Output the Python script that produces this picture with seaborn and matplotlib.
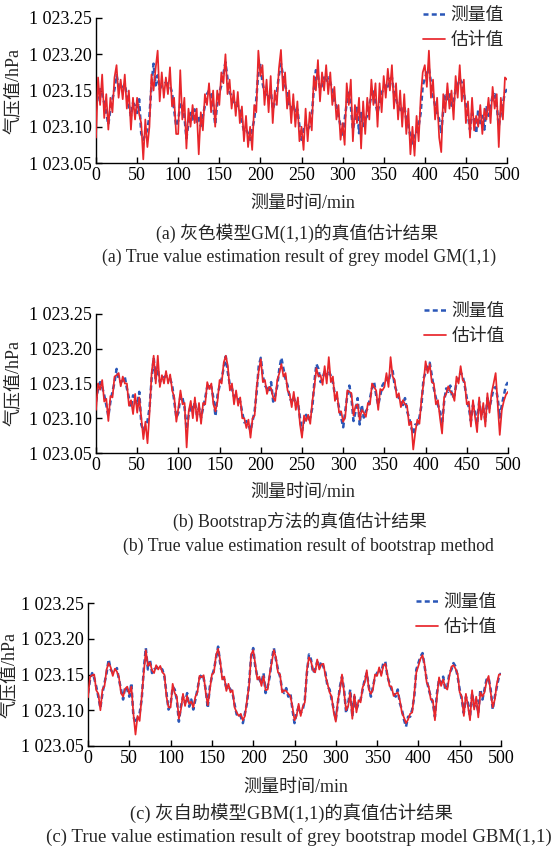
import numpy as np
import pandas as pd
import matplotlib
matplotlib.use("Agg")
import matplotlib.pyplot as plt
import seaborn as sns
from matplotlib.ticker import FixedLocator, FixedFormatter

# ---------------- data (pressure above 1023 hPa, in 0.001 hPa; sampled every 2.5 min) -------------
base_hpa = 1023.0
step_min = 2.5

measured = [
    124,143,152,145,133,119,103,124,138,152,171,157,152,154,159,143,129,115,133,129,
    119,138,91,82,89,96,115,157,187,157,171,152,157,159,161,159,157,147,124,101,
    108,133,129,115,84,105,119,110,124,105,115,101,115,129,145,150,145,129,103,133,
    147,157,173,189,166,147,143,131,133,129,124,108,94,96,91,82,96,110,138,175,
    187,161,147,143,138,152,124,133,147,171,187,171,157,147,129,124,131,119,124,101,
    82,96,105,96,101,115,152,178,171,152,157,168,161,168,161,152,133,129,115,101,
    87,110,133,147,129,96,110,129,91,119,101,110,115,129,143,152,133,119,133,147,
    152,157,152,166,168,147,138,129,124,119,129,110,101,87,77,91,91,101,119,157,
    166,175,180,161,143,129,119,110,91,124,143,138,147,129,133,152,157,166,161,147,
    129,115,96,119,110,91,124,105,115,96,129,115,129,143,145,129,101,119,133,147,
    152,
]

est_gm = [
    85,168,130,172,112,145,96,140,120,168,185,140,165,138,172,125,150,96,140,110,
    140,118,105,55,110,72,100,172,150,180,205,135,175,140,168,145,182,128,140,90,
    90,178,110,140,70,125,100,130,105,125,62,120,95,145,130,160,120,150,100,150,
    130,175,160,200,145,165,125,150,115,148,105,128,80,115,72,100,68,130,120,205,
    170,185,130,165,120,170,105,150,130,180,206,150,175,125,150,105,145,100,135,80,
    100,68,125,80,120,95,170,150,192,135,175,150,185,145,175,130,155,110,130,82,
    105,75,160,130,165,80,130,105,140,70,135,90,140,110,165,130,160,100,160,120,
    170,140,180,150,185,125,160,110,150,100,145,90,125,62,100,60,115,80,140,175,
    185,155,205,140,165,110,140,85,65,145,120,160,125,150,110,170,140,185,135,165,
    105,135,85,140,95,115,100,130,90,125,110,140,105,155,125,145,72,140,110,168,
    165,
]

est_bootstrap = [
    112,150,141,155,124,128,96,132,130,160,162,165,146,160,150,150,118,126,106,135,
    108,130,100,70,95,64,108,165,190,150,190,145,162,150,168,150,163,140,130,95,
    115,140,120,122,58,110,125,100,130,96,122,92,122,120,152,142,150,120,110,125,
    155,150,180,190,175,140,150,120,140,118,130,100,100,86,98,72,100,104,145,168,
    185,152,155,135,145,143,130,125,155,165,178,160,165,140,135,116,138,112,130,92,
    72,104,96,105,92,124,145,172,160,162,148,175,150,188,152,160,125,138,108,110,
    95,102,140,138,136,104,118,120,98,112,108,102,122,120,150,145,140,112,142,140,
    145,165,145,188,160,155,130,136,116,126,120,118,90,95,55,80,98,92,128,150,
    182,165,178,152,150,120,126,100,78,130,135,146,138,136,125,160,150,175,155,152,
    120,124,88,126,102,80,130,98,122,88,136,108,136,150,165,120,76,112,125,134,
    138,
]

est_gbm = [
    118,147,149,150,128,123,100,129,134,157,166,160,148,158,154,146,124,119,130,133,
    123,133,95,66,92,85,119,152,184,162,167,156,152,163,157,162,153,150,119,104,
    104,137,124,119,88,101,123,106,120,109,112,104,119,125,148,146,149,125,107,129,
    150,153,177,186,170,143,147,127,137,125,128,104,97,92,95,86,92,114,134,178,
    184,165,143,147,134,148,128,129,151,167,184,174,153,150,125,128,127,123,120,105,
    86,92,109,92,105,111,156,174,168,156,153,171,157,164,165,148,137,125,119,97,
    84,114,129,150,125,100,106,125,88,122,97,114,111,132,139,156,129,123,129,150,
    148,160,148,162,165,150,134,133,120,123,125,114,97,90,82,87,95,97,123,153,
    162,172,177,164,139,133,115,114,86,120,146,134,143,132,129,148,161,163,158,151,
    125,119,92,123,106,86,128,101,119,90,125,119,125,140,148,125,104,115,137,150,
    150,
]

y_ticks = [1023.05, 1023.10, 1023.15, 1023.20, 1023.25]
y_tick_labels = ["1 023.05", "1 023.10", "1 023.15", "1 023.20", "1 023.25"]
x_ticks = [0, 50, 100, 150, 200, 250, 300, 350, 400, 450, 500]

series_names = ["测量值", "估计值"]
y_label = "气压值/hPa"
x_label = "测量时间/min"
captions = [
    ("(a) 灰色模型GM(1,1)的真值估计结果", "(a) True value estimation result of grey model GM(1,1)"),
    ("(b) Bootstrap方法的真值估计结果", "(b) True value estimation result of bootstrap method"),
    ("(c) 灰自助模型GBM(1,1)的真值估计结果", "(c) True value estimation result of grey bootstrap model GBM(1,1)"),
]

# ---------------- style ----------------
sns.set_style("ticks")
FAM = ["Liberation Serif", "Noto Sans CJK SC", "DejaVu Sans"]
plt.rcParams["font.family"] = FAM
plt.rcParams["axes.unicode_minus"] = False

W, H = 553, 849
fig = plt.figure(figsize=(W / 100, H / 100), dpi=100)
fig.patch.set_facecolor("white")


def rect(l, t, r, b):
    return [l / W, 1 - b / H, (r - l) / W, (b - t) / H]


def fy(y):
    return 1 - y / H


time = np.arange(len(measured)) * step_min
meas_vals = base_hpa + np.array(measured) / 1000.0

panels = [
    dict(rect=(96, 18, 507, 163), est=est_gm, leg=(504, 7), ylab_x=14,
         xlab_y=203, cap1=(297, 233, 12.8), cap2=(299, 257, "center", 12.8)),
    dict(rect=(96, 314, 508, 453), est=est_bootstrap, leg=(505, 303), ylab_x=14,
         xlab_y=492, cap1=(300, 521, 12.8), cap2=(308, 546, "center", 12.8)),
    dict(rect=(88, 603, 501, 746), est=est_gbm, leg=(497, 594), ylab_x=10,
         xlab_y=787, cap1=(291, 813, 13.2), cap2=(46, 837, "left", 13.6)),
]

BLUE = "#2a57b8"
RED = "#e8262b"

for i, p in enumerate(panels):
    l, t, r, b = p["rect"]
    ax = fig.add_axes(rect(l, t, r, b))
    ax.set_facecolor("white")
    df = pd.DataFrame({
        "t": time,
        "meas": meas_vals,
        "est": base_hpa + np.array(p["est"]) / 1000.0,
    })
    sns.lineplot(data=df, x="t", y="meas", ax=ax, color=BLUE, linewidth=1.8,
                 linestyle=(0, (2.0, 1.3)), estimator=None, errorbar=None,
                 label=series_names[0], zorder=2)
    sns.lineplot(data=df, x="t", y="est", ax=ax, color=RED, linewidth=1.25,
                 estimator=None, errorbar=None, label=series_names[1], zorder=3)
    ax.set_xlim(0, 500)
    ax.set_ylim(1023.05, 1023.25)
    ax.xaxis.set_major_locator(FixedLocator(x_ticks))
    ax.yaxis.set_major_locator(FixedLocator(y_ticks))
    ax.yaxis.set_major_formatter(FixedFormatter(y_tick_labels))
    ax.tick_params(direction="in", length=4, width=1, labelsize=13, pad=3,
                   colors="black")
    for lab in ax.get_xticklabels() + ax.get_yticklabels():
        lab.set_family(FAM)
    ax.set_xlabel("")
    ax.set_ylabel("")
    for s in ["top", "right"]:
        ax.spines[s].set_visible(False)
    for s in ["left", "bottom"]:
        ax.spines[s].set_linewidth(1.0)
        ax.spines[s].set_color("black")
    lx, ly = p["leg"]
    ax.legend(loc="upper right", bbox_to_anchor=(lx / W, fy(ly)),
              bbox_transform=fig.transFigure, frameon=False,
              borderpad=0, borderaxespad=0, handlelength=1.25,
              handletextpad=0.3, labelspacing=0.45,
              prop=dict(family=FAM, size=12.8))
    fig.text(p["ylab_x"] / W, fy((t + b) / 2), y_label, rotation=90,
             ha="center", va="center", fontsize=13, family=FAM)
    fig.text(((l + r) / 2 + 1) / W, fy(p["xlab_y"]), x_label, ha="center",
             va="center", fontsize=13, family=FAM)
    cx, cy, cs = p["cap1"]
    fig.text(cx / W, fy(cy), captions[i][0], ha="center", va="center",
             fontsize=cs, family=FAM)
    ex, ey, eha, es = p["cap2"]
    fig.text(ex / W, fy(ey), captions[i][1], ha=eha, va="center",
             fontsize=es, family=FAM)

fig.savefig("out.png", dpi=100, facecolor="white")
